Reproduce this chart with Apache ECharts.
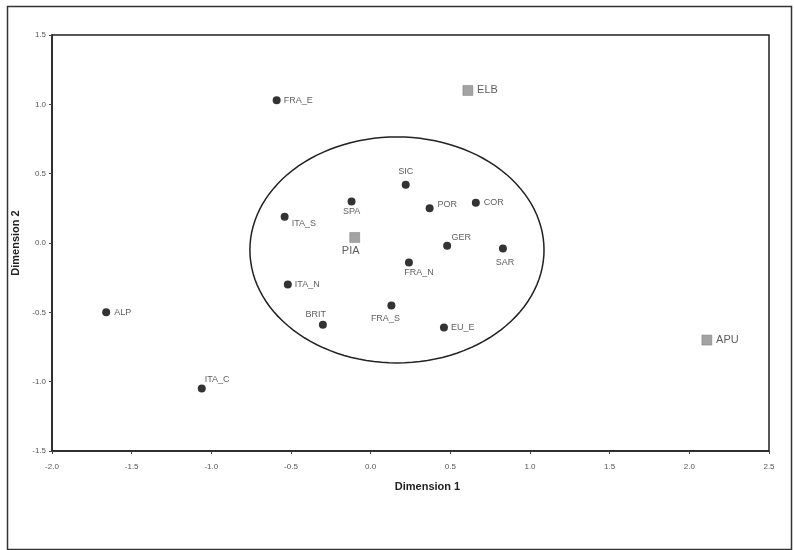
<!DOCTYPE html>
<html lang="en">
<head>
<meta charset="UTF-8">
<title>Dimension plot</title>
<script src="https://cdn.jsdelivr.net/npm/echarts@6.0.0/dist/echarts.min.js"></script>
<style>
  body { margin: 0; background: #fff; }
  #main { width: 794px; height: 550px; }
</style>
</head>
<body>
<div id="main"></div>
<script>
// reference populations (black dots)
const popNames = ['FRA_E', 'SIC', 'SPA', 'ITA_S', 'POR', 'COR', 'GER', 'SAR', 'FRA_N', 'ITA_N', 'ALP', 'BRIT', 'FRA_S', 'ITA_C', 'EU_E'];
const popDim1 = [-0.59, 0.22, -0.12, -0.54, 0.37, 0.66, 0.48, 0.83, 0.24, -0.52, -1.66, -0.30, 0.13, -1.06, 0.46];
const popDim2 = [1.03, 0.42, 0.30, 0.19, 0.25, 0.29, -0.02, -0.04, -0.14, -0.30, -0.50, -0.59, -0.45, -1.05, -0.61];

// study samples (grey squares)
const siteNames = ['ELB', 'PIA', 'APU'];
const siteDim1 = [0.61, -0.10, 2.11];
const siteDim2 = [1.10, 0.04, -0.70];

// ellipse around the main cluster
const ellipseCenter = [0.165, -0.05];
const ellipseRadii = [0.923, 0.815];

// label placement: [position, dx, dy]
const labelPlace = {
  FRA_E: ['right', -2, 0], SIC: ['top', 0, 0], SPA: ['bottom', 0, -3], ITA_S: ['right', -2, 7],
  POR: ['right', -1, -4], COR: ['right', -1, 0], GER: ['top', 14, 5], SAR: ['bottom', 2, 0],
  FRA_N: ['bottom', 10, -3], ITA_N: ['right', -2, 0], ALP: ['right', -1, 0], BRIT: ['top', -7, 3],
  FRA_S: ['bottom', -6, 0], ITA_C: ['right', -6, -9], EU_E: ['right', -2, 0],
  ELB: ['right', -1, 0], PIA: ['bottom', -4, -2], APU: ['right', -1, 0]
};

const font = 'Liberation Sans, Arial, sans-serif';

function makeItem(name, x, y) {
  const p = labelPlace[name];
  return { name: name, value: [x, y], label: { position: p[0], offset: [p[1], p[2]] } };
}

const popData = popNames.map((n, i) => makeItem(n, popDim1[i], popDim2[i]));
const siteData = siteNames.map((n, i) => makeItem(n, siteDim1[i], siteDim2[i]));

let myChart = echarts.init(document.getElementById('main'));

let options = {
  animation: false,
  grid: { left: 52, right: 25, top: 35, bottom: 99, show: true, borderColor: '#222', borderWidth: 1.5 },
  graphic: [{
    type: 'rect', left: 5, top: 4, silent: true,
    shape: { width: 784, height: 543 },
    style: { fill: 'none', stroke: '#333', lineWidth: 1.5 }
  }],
  xAxis: {
    type: 'value', min: -2, max: 2.5, interval: 0.5,
    name: 'Dimension 1', nameLocation: 'middle', nameGap: 30,
    nameTextStyle: { fontFamily: font, fontWeight: 'bold', fontSize: 11, color: '#222', padding: [0, 0, 0, 34] },
    axisLine: { show: true, onZero: false, lineStyle: { color: '#222', width: 1.5 } },
    axisTick: { show: true, length: 3, lineStyle: { color: '#444' } },
    axisLabel: { fontFamily: font, fontSize: 8, color: '#555', margin: 12, formatter: v => v.toFixed(1) },
    splitLine: { show: false }
  },
  yAxis: {
    type: 'value', min: -1.5, max: 1.5, interval: 0.5,
    name: 'Dimension 2', nameLocation: 'middle', nameGap: 25, nameRotate: 90,
    nameTextStyle: { fontFamily: font, fontWeight: 'bold', fontSize: 11, color: '#222' },
    axisLine: { show: true, onZero: false, lineStyle: { color: '#222', width: 1.5 } },
    axisTick: { show: true, length: 3, lineStyle: { color: '#444' } },
    axisLabel: { fontFamily: font, fontSize: 8, color: '#555', margin: 6, formatter: v => v.toFixed(1) },
    splitLine: { show: false }
  },
  series: [
    {
      type: 'custom',
      silent: true,
      z: 1,
      data: [ellipseCenter],
      renderItem: (params, api) => {
        const pts = [];
        for (let k = 0; k < 120; k++) {
          const t = k / 120 * Math.PI * 2;
          pts.push(api.coord([ellipseCenter[0] + ellipseRadii[0] * Math.cos(t), ellipseCenter[1] + ellipseRadii[1] * Math.sin(t)]));
        }
        return { type: 'polygon', shape: { points: pts }, style: { fill: 'none', stroke: '#222', lineWidth: 1.5 } };
      }
    },
    {
      name: 'populations',
      type: 'scatter',
      z: 3,
      symbol: 'circle',
      symbolSize: 8,
      itemStyle: { color: '#000' },
      label: { show: true, formatter: '{b}', fontFamily: font, fontSize: 9, color: '#333', distance: 5 },
      data: popData
    },
    {
      name: 'samples',
      type: 'scatter',
      z: 3,
      symbol: 'rect',
      symbolSize: 10,
      itemStyle: { color: '#8c8c8c', borderColor: '#666', borderWidth: 0.5 },
      label: { show: true, formatter: '{b}', fontFamily: font, fontSize: 11, color: '#333', distance: 5 },
      data: siteData
    }
  ]
};

myChart.setOption(options);
</script>
</body>
</html>
